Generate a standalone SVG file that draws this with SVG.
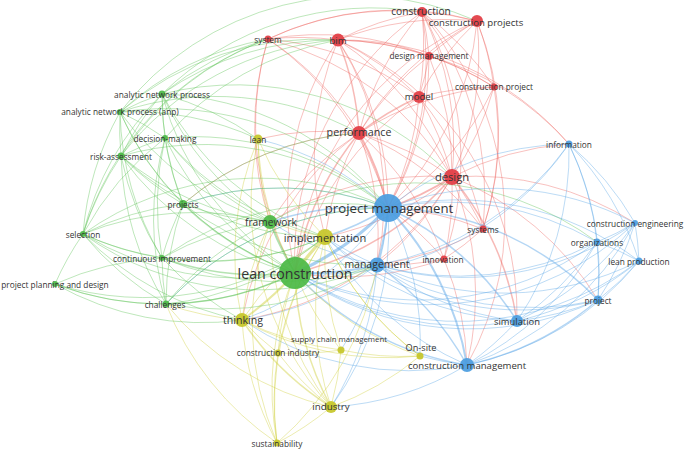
<svg xmlns="http://www.w3.org/2000/svg" width="685" height="450" viewBox="0 0 685 450">
<style>
.e path{fill:none;stroke-width:1;stroke-opacity:0.4}
.e .r{stroke:#ee6560}.e .g{stroke:#5cc254}.e .b{stroke:#58a4e6}.e .y{stroke:#cfcf3a}
.e .t2{stroke-width:2;stroke-opacity:0.48}.e .t3{stroke-width:3.2;stroke-opacity:0.52}.e .t1{stroke-width:1.5;stroke-opacity:0.45}
.nr{fill:#e23c44}.ng{fill:#4cb947}.nb{fill:#4b9de0}.ny{fill:#c6c62a}
circle{fill-opacity:0.93}
text{font-family:"Open Sans","Noto Sans","DejaVu Sans",sans-serif;fill:#333;text-anchor:middle;dominant-baseline:central}
.s{font-size:8.3px}.m{font-size:9.6px}.l{font-size:10.6px}
</style>
<rect width="685" height="450" fill="#fff"/>
<g id="connectors" class="e">
<path class="r" d="M268 39A300 300 0 0 1 338 40"/>
<path class="r" d="M268 39A300 300 0 0 1 422 12"/>
<path class="r" d="M268 39A300 300 0 0 1 477 21"/>
<path class="r" d="M268 39A300 300 0 0 1 359 133"/>
<path class="r" d="M268 39A300 300 0 0 1 419 97"/>
<path class="r" d="M268 39A300 300 0 0 1 429 56"/>
<path class="r" d="M268 39A300 300 0 0 1 452 177"/>
<path class="r" d="M268 39A300 300 0 0 1 388 208"/>
<path class="r" d="M268 39A300 300 0 0 0 295 273"/>
<path class="r" d="M268 39A300 300 0 0 0 270 222"/>
<path class="r" d="M338 40A300 300 0 0 1 422 12"/>
<path class="r" d="M338 40A300 300 0 0 1 477 21"/>
<path class="r" d="M338 40A300 300 0 0 1 429 56"/>
<path class="r" d="M338 40A300 300 0 0 1 419 97"/>
<path class="r t1" d="M338 40A300 300 0 0 1 359 133"/>
<path class="r" d="M338 40A300 300 0 0 1 452 177"/>
<path class="r" d="M338 40A300 300 0 0 1 388 208"/>
<path class="r" d="M338 40A300 300 0 0 0 295 273"/>
<path class="r" d="M338 40A300 300 0 0 0 325 237"/>
<path class="r" d="M338 40A300 300 0 0 1 377 265"/>
<path class="r" d="M338 40A300 300 0 0 1 494 87"/>
<path class="r" d="M338 40A300 300 0 0 1 569 144"/>
<path class="r" d="M338 40A300 300 0 0 1 517 321"/>
<path class="r" d="M422 12A300 300 0 0 1 477 21"/>
<path class="r" d="M422 12A300 300 0 0 1 429 56"/>
<path class="r" d="M422 12A300 300 0 0 1 419 97"/>
<path class="r" d="M422 12A300 300 0 0 0 359 133"/>
<path class="r" d="M422 12A300 300 0 0 1 452 177"/>
<path class="r" d="M422 12A300 300 0 0 1 388 208"/>
<path class="r" d="M422 12A300 300 0 0 1 494 87"/>
<path class="r" d="M422 12A300 300 0 0 0 295 273"/>
<path class="r" d="M422 12A300 300 0 0 1 483 229"/>
<path class="r" d="M422 12A300 300 0 0 1 444 259"/>
<path class="r" d="M422 12A300 300 0 0 1 467 365"/>
<path class="r" d="M477 21A300 300 0 0 0 429 56"/>
<path class="r" d="M477 21A300 300 0 0 0 419 97"/>
<path class="r" d="M477 21A300 300 0 0 0 359 133"/>
<path class="r" d="M477 21A300 300 0 0 1 452 177"/>
<path class="r" d="M477 21A300 300 0 0 1 388 208"/>
<path class="r" d="M477 21A300 300 0 0 1 494 87"/>
<path class="r" d="M477 21A300 300 0 0 0 295 273"/>
<path class="r" d="M477 21A300 300 0 0 1 483 229"/>
<path class="r" d="M429 56A300 300 0 0 1 419 97"/>
<path class="r" d="M429 56A300 300 0 0 0 359 133"/>
<path class="r" d="M429 56A300 300 0 0 1 452 177"/>
<path class="r" d="M429 56A300 300 0 0 1 388 208"/>
<path class="r" d="M429 56A300 300 0 0 1 494 87"/>
<path class="r" d="M429 56A300 300 0 0 1 569 144"/>
<path class="r" d="M494 87A300 300 0 0 1 452 177"/>
<path class="r" d="M494 87A300 300 0 0 0 419 97"/>
<path class="r" d="M494 87A300 300 0 0 1 388 208"/>
<path class="r" d="M494 87A300 300 0 0 0 359 133"/>
<path class="r" d="M494 87A300 300 0 0 1 483 229"/>
<path class="r t1" d="M419 97A300 300 0 0 0 359 133"/>
<path class="r" d="M419 97A300 300 0 0 1 452 177"/>
<path class="r" d="M419 97A300 300 0 0 1 388 208"/>
<path class="r" d="M419 97A300 300 0 0 0 295 273"/>
<path class="r" d="M419 97A300 300 0 0 1 483 229"/>
<path class="r" d="M359 133A300 300 0 0 1 452 177"/>
<path class="r t2" d="M359 133A300 300 0 0 1 388 208"/>
<path class="r t1" d="M359 133A300 300 0 0 0 295 273"/>
<path class="r" d="M359 133A300 300 0 0 0 325 237"/>
<path class="r" d="M359 133A300 300 0 0 0 270 222"/>
<path class="r" d="M359 133A300 300 0 0 1 377 265"/>
<path class="r" d="M359 133A300 300 0 0 0 258 139"/>
<path class="r" d="M359 133A300 300 0 0 1 444 259"/>
<path class="r" d="M359 133A300 300 0 0 1 483 229"/>
<path class="r" d="M359 133A300 300 0 0 0 242 320"/>
<path class="r" d="M359 133A300 300 0 0 0 183 204"/>
<path class="r t2" d="M452 177A300 300 0 0 1 388 208"/>
<path class="r t1" d="M452 177A300 300 0 0 1 295 273"/>
<path class="r" d="M452 177A300 300 0 0 1 377 265"/>
<path class="r" d="M452 177A300 300 0 0 1 483 229"/>
<path class="r" d="M452 177A300 300 0 0 1 444 259"/>
<path class="r" d="M452 177A300 300 0 0 1 325 237"/>
<path class="r t1" d="M452 177A300 300 0 0 1 517 321"/>
<path class="r" d="M452 177A300 300 0 0 1 467 365"/>
<path class="r" d="M452 177A300 300 0 0 1 598 300"/>
<path class="r" d="M452 177A300 300 0 0 1 635 223"/>
<path class="r" d="M452 177A300 300 0 0 1 569 144"/>
<path class="r" d="M452 177A300 300 0 0 0 270 222"/>
<path class="r" d="M452 177A300 300 0 0 1 242 320"/>
<path class="r" d="M483 229A300 300 0 0 0 388 208"/>
<path class="r" d="M483 229A300 300 0 0 1 377 265"/>
<path class="r" d="M483 229A300 300 0 0 1 444 259"/>
<path class="r" d="M444 259A300 300 0 0 0 388 208"/>
<path class="r" d="M444 259A300 300 0 0 1 377 265"/>
<path class="r" d="M444 259A300 300 0 0 1 295 273"/>
<path class="r" d="M444 259A300 300 0 0 1 467 365"/>
<path class="b t3" d="M388 208A300 300 0 0 1 295 273"/>
<path class="b t2" d="M388 208A300 300 0 0 1 377 265"/>
<path class="b t1" d="M388 208A300 300 0 0 1 325 237"/>
<path class="b t1" d="M388 208A300 300 0 0 0 270 222"/>
<path class="b" d="M388 208A300 300 0 0 1 569 144"/>
<path class="b" d="M388 208A300 300 0 0 1 635 223"/>
<path class="b" d="M388 208A300 300 0 0 1 597 242"/>
<path class="b" d="M388 208A300 300 0 0 1 639 261"/>
<path class="b t1" d="M388 208A300 300 0 0 1 598 300"/>
<path class="b t1" d="M388 208A300 300 0 0 1 517 321"/>
<path class="b t2" d="M388 208A300 300 0 0 1 467 365"/>
<path class="b" d="M388 208A300 300 0 0 1 242 320"/>
<path class="b" d="M388 208A300 300 0 0 1 331 407"/>
<path class="b" d="M388 208A300 300 0 0 0 258 139"/>
<path class="b" d="M388 208A300 300 0 0 0 183 204"/>
<path class="b" d="M388 208A300 300 0 0 1 420 356"/>
<path class="b" d="M388 208A300 300 0 0 1 341 350"/>
<path class="b" d="M388 208A300 300 0 0 0 166 304"/>
<path class="b t2" d="M377 265A300 300 0 0 1 295 273"/>
<path class="b" d="M377 265A300 300 0 0 1 325 237"/>
<path class="b" d="M377 265A300 300 0 0 0 517 321"/>
<path class="b t1" d="M377 265A300 300 0 0 1 467 365"/>
<path class="b" d="M377 265A300 300 0 0 0 598 300"/>
<path class="b" d="M377 265A300 300 0 0 0 597 242"/>
<path class="b" d="M377 265A300 300 0 0 0 635 223"/>
<path class="b" d="M377 265A300 300 0 0 0 639 261"/>
<path class="b" d="M377 265A300 300 0 0 1 270 222"/>
<path class="b" d="M377 265A300 300 0 0 1 242 320"/>
<path class="b" d="M377 265A300 300 0 0 1 331 407"/>
<path class="b" d="M569 144A300 300 0 0 1 635 223"/>
<path class="b" d="M569 144A300 300 0 0 1 597 242"/>
<path class="b" d="M569 144A300 300 0 0 1 639 261"/>
<path class="b" d="M569 144A300 300 0 0 1 598 300"/>
<path class="b" d="M569 144A300 300 0 0 1 517 321"/>
<path class="b" d="M635 223A300 300 0 0 1 597 242"/>
<path class="b" d="M635 223A300 300 0 0 1 639 261"/>
<path class="b" d="M635 223A300 300 0 0 1 598 300"/>
<path class="b" d="M635 223A300 300 0 0 1 517 321"/>
<path class="b" d="M597 242A300 300 0 0 1 639 261"/>
<path class="b" d="M597 242A300 300 0 0 1 598 300"/>
<path class="b" d="M597 242A300 300 0 0 1 517 321"/>
<path class="b" d="M639 261A300 300 0 0 1 598 300"/>
<path class="b" d="M639 261A300 300 0 0 1 517 321"/>
<path class="b" d="M639 261A300 300 0 0 1 467 365"/>
<path class="b" d="M598 300A300 300 0 0 1 517 321"/>
<path class="b t1" d="M598 300A300 300 0 0 1 467 365"/>
<path class="b" d="M598 300A300 300 0 0 1 295 273"/>
<path class="b" d="M517 321A300 300 0 0 1 467 365"/>
<path class="b" d="M517 321A300 300 0 0 1 295 273"/>
<path class="b" d="M517 321A300 300 0 0 1 325 237"/>
<path class="b t1" d="M467 365A300 300 0 0 1 295 273"/>
<path class="b" d="M467 365A300 300 0 0 1 331 407"/>
<path class="b" d="M467 365A300 300 0 0 1 420 356"/>
<path class="b" d="M467 365A300 300 0 0 1 325 237"/>
<path class="b" d="M467 365A300 300 0 0 1 242 320"/>
<path class="b" d="M569 144A300 300 0 0 1 377 265"/>
<path class="b" d="M635 223A300 300 0 0 1 467 365"/>
<path class="b" d="M597 242A300 300 0 0 1 467 365"/>
<path class="b" d="M598 300A300 300 0 0 1 325 237"/>
<path class="b" d="M569 144A300 300 0 0 1 295 273"/>
<path class="b" d="M639 261A300 300 0 0 1 295 273"/>
<path class="b" d="M635 223A300 300 0 0 1 295 273"/>
<path class="b" d="M597 242A300 300 0 0 1 295 273"/>
<path class="y" d="M258 139A300 300 0 0 0 295 273"/>
<path class="y" d="M258 139A300 300 0 0 0 325 237"/>
<path class="y" d="M258 139A300 300 0 0 0 242 320"/>
<path class="y" d="M258 139A300 300 0 0 0 270 222"/>
<path class="y" d="M258 139A300 300 0 0 0 331 407"/>
<path class="y t3" d="M325 237A300 300 0 0 0 295 273"/>
<path class="y" d="M325 237A300 300 0 0 1 270 222"/>
<path class="y" d="M325 237A300 300 0 0 0 242 320"/>
<path class="y" d="M325 237A300 300 0 0 0 331 407"/>
<path class="y" d="M325 237A300 300 0 0 0 341 350"/>
<path class="y" d="M325 237A300 300 0 0 0 420 356"/>
<path class="y t2" d="M242 320A300 300 0 0 0 295 273"/>
<path class="y" d="M242 320A300 300 0 0 0 278 353"/>
<path class="y t1" d="M242 320A300 300 0 0 0 331 407"/>
<path class="y" d="M242 320A300 300 0 0 0 277 443"/>
<path class="y" d="M242 320A300 300 0 0 0 341 350"/>
<path class="y" d="M242 320A300 300 0 0 1 270 222"/>
<path class="y" d="M242 320A300 300 0 0 1 166 304"/>
<path class="y" d="M341 350A300 300 0 0 1 295 273"/>
<path class="y" d="M341 350A300 300 0 0 1 331 407"/>
<path class="y" d="M341 350A300 300 0 0 1 278 353"/>
<path class="y" d="M341 350A300 300 0 0 0 420 356"/>
<path class="y" d="M278 353A300 300 0 0 1 295 273"/>
<path class="y" d="M278 353A300 300 0 0 0 331 407"/>
<path class="y" d="M278 353A300 300 0 0 0 277 443"/>
<path class="y" d="M420 356A300 300 0 0 1 295 273"/>
<path class="y" d="M420 356A300 300 0 0 1 331 407"/>
<path class="y t1" d="M331 407A300 300 0 0 1 295 273"/>
<path class="y" d="M331 407A300 300 0 0 1 277 443"/>
<path class="y" d="M277 443A300 300 0 0 1 295 273"/>
<path class="y" d="M277 443A300 300 0 0 1 270 222"/>
<path class="y" d="M277 443A300 300 0 0 1 166 304"/>
<path class="y" d="M420 356A300 300 0 0 1 242 320"/>
<path class="y" d="M277 443A300 300 0 0 1 325 237"/>
<path class="y" d="M420 356A300 300 0 0 1 325 237"/>
<path class="y" d="M331 407A300 300 0 0 1 270 222"/>
<path class="y" d="M278 353A300 300 0 0 1 325 237"/>
<path class="y" d="M277 443A300 300 0 0 0 377 265"/>
<path class="y" d="M331 407A300 300 0 0 1 166 304"/>
<path class="g t2" d="M295 273A300 300 0 0 1 270 222"/>
<path class="g" d="M295 273A300 300 0 0 1 162 94"/>
<path class="g" d="M295 273A300 300 0 0 1 120 112"/>
<path class="g" d="M295 273A300 300 0 0 1 165 138"/>
<path class="g" d="M295 273A300 300 0 0 1 121 156"/>
<path class="g t1" d="M295 273A300 300 0 0 1 183 204"/>
<path class="g" d="M295 273A300 300 0 0 1 83 234"/>
<path class="g t1" d="M295 273A300 300 0 0 1 162 258"/>
<path class="g" d="M295 273A300 300 0 0 1 55 284"/>
<path class="g t1" d="M295 273A300 300 0 0 1 166 304"/>
<path class="g" d="M270 222A300 300 0 0 1 162 94"/>
<path class="g" d="M270 222A300 300 0 0 1 120 112"/>
<path class="g" d="M270 222A300 300 0 0 1 165 138"/>
<path class="g" d="M270 222A300 300 0 0 1 121 156"/>
<path class="g" d="M270 222A300 300 0 0 1 183 204"/>
<path class="g" d="M270 222A300 300 0 0 0 83 234"/>
<path class="g" d="M270 222A300 300 0 0 0 162 258"/>
<path class="g" d="M270 222A300 300 0 0 0 166 304"/>
<path class="g" d="M162 94A300 300 0 0 0 120 112"/>
<path class="g" d="M162 94A300 300 0 0 0 165 138"/>
<path class="g" d="M162 94A300 300 0 0 0 121 156"/>
<path class="g" d="M162 94A300 300 0 0 0 183 204"/>
<path class="g" d="M162 94A300 300 0 0 0 83 234"/>
<path class="g" d="M162 94A300 300 0 0 1 268 39"/>
<path class="g" d="M162 94A300 300 0 0 1 338 40"/>
<path class="g" d="M120 112A300 300 0 0 1 165 138"/>
<path class="g" d="M120 112A300 300 0 0 0 121 156"/>
<path class="g" d="M120 112A300 300 0 0 0 183 204"/>
<path class="g" d="M120 112A300 300 0 0 0 83 234"/>
<path class="g" d="M120 112A300 300 0 0 0 162 258"/>
<path class="g" d="M120 112A300 300 0 0 1 338 40"/>
<path class="g" d="M120 112A300 300 0 0 1 477 21"/>
<path class="g" d="M165 138A300 300 0 0 0 121 156"/>
<path class="g" d="M165 138A300 300 0 0 0 183 204"/>
<path class="g" d="M165 138A300 300 0 0 0 83 234"/>
<path class="g" d="M165 138A300 300 0 0 0 162 258"/>
<path class="g" d="M165 138A300 300 0 0 0 166 304"/>
<path class="g" d="M165 138A300 300 0 0 1 388 208"/>
<path class="g" d="M121 156A300 300 0 0 0 183 204"/>
<path class="g" d="M121 156A300 300 0 0 0 83 234"/>
<path class="g" d="M121 156A300 300 0 0 0 162 258"/>
<path class="g" d="M121 156A300 300 0 0 0 166 304"/>
<path class="g" d="M121 156A300 300 0 0 1 388 208"/>
<path class="g" d="M183 204A300 300 0 0 0 83 234"/>
<path class="g" d="M183 204A300 300 0 0 0 162 258"/>
<path class="g" d="M183 204A300 300 0 0 0 166 304"/>
<path class="g" d="M183 204A300 300 0 0 1 388 208"/>
<path class="g" d="M183 204A300 300 0 0 0 377 265"/>
<path class="g" d="M83 234A300 300 0 0 0 162 258"/>
<path class="g" d="M83 234A300 300 0 0 0 166 304"/>
<path class="g" d="M83 234A300 300 0 0 0 55 284"/>
<path class="g" d="M83 234A300 300 0 0 1 388 208"/>
<path class="g" d="M162 258A300 300 0 0 0 166 304"/>
<path class="g" d="M162 258A300 300 0 0 1 388 208"/>
<path class="g" d="M162 258A300 300 0 0 0 242 320"/>
<path class="g" d="M55 284A300 300 0 0 0 166 304"/>
<path class="g" d="M166 304A300 300 0 0 0 377 265"/>
<path class="g" d="M166 304A300 300 0 0 1 388 208"/>
<path class="g" d="M55 284A300 300 0 0 1 162 258"/>
<path class="g" d="M83 234A300 300 0 0 0 242 320"/>
<path class="g" d="M55 284A300 300 0 0 0 242 320"/>
<path class="g" d="M120 112A300 300 0 0 1 258 139"/>
<path class="g" d="M162 94A300 300 0 0 1 258 139"/>
<path class="g" d="M162 258A300 300 0 0 0 377 265"/>
<path class="g" d="M162 258A300 300 0 0 0 325 237"/>
<path class="g" d="M162 94A300 300 0 0 1 388 208"/>
<path class="g" d="M120 112A300 300 0 0 1 388 208"/>
<path class="g" d="M83 234A300 300 0 0 0 325 237"/>
<path class="g" d="M166 304A300 300 0 0 0 325 237"/>
<path class="g" d="M162 94A300 300 0 0 0 325 237"/>
<path class="g" d="M121 156A300 300 0 0 0 325 237"/>
<path class="g" d="M165 138A300 300 0 0 0 325 237"/>
<path class="g" d="M83 234A300 300 0 0 0 377 265"/>
<path class="g" d="M55 284A300 300 0 0 0 325 237"/>
<path class="g" d="M270 222A300 300 0 0 1 597 242"/>
<path class="g" d="M120 112A300 300 0 0 1 268 39"/>
<path class="g" d="M121 156A300 300 0 0 1 338 40"/>
<path class="g" d="M165 138A300 300 0 0 1 338 40"/>
<path class="g" d="M162 94A300 300 0 0 1 422 12"/>
<path class="g" d="M120 112A300 300 0 0 1 359 133"/>
<path class="g" d="M121 156A300 300 0 0 1 268 39"/>
<path class="g" d="M162 94A300 300 0 0 1 452 177"/>
<path class="g" d="M183 204A300 300 0 0 1 359 133"/>
<path class="g" d="M83 234A300 300 0 0 1 268 39"/>
</g>
<g id="n-system"><circle class="nr" cx="268" cy="39" r="3.5"/><text class="s" x="268" y="39">system</text></g>
<g id="n-design-management"><circle class="nr" cx="429" cy="56" r="4"/><text class="s" x="429" y="55">design management</text></g>
<g id="n-construction-project"><circle class="nr" cx="494" cy="87" r="3.5"/><text class="s" x="494" y="86">construction project</text></g>
<g id="n-systems"><circle class="nr" cx="483" cy="229" r="3.5"/><text class="s" x="483" y="229">systems</text></g>
<g id="n-innovation"><circle class="nr" cx="444" cy="259" r="3.5"/><text class="s" x="443" y="259">innovation</text></g>
<g id="n-bim"><circle class="nr" cx="338" cy="40" r="6.5"/><text class="m" x="338" y="40">bim</text></g>
<g id="n-construction"><circle class="nr" cx="422" cy="12" r="5"/><text style="font-size:10.2px" x="421" y="10.5">construction</text></g>
<g id="n-construction-projects"><circle class="nr" cx="477" cy="21" r="6"/><text class="m" x="476" y="22.5">construction projects</text></g>
<g id="n-model"><circle class="nr" cx="419" cy="97" r="6"/><text class="m" x="419" y="96">model</text></g>
<g id="n-performance"><circle class="nr" cx="359" cy="133" r="7"/><text style="font-size:10.7px" x="359" y="132">performance</text></g>
<g id="n-design"><circle class="nr" cx="452" cy="177" r="8"/><text style="font-size:11.2px" x="452" y="176">design</text></g>
<g id="n-information"><circle class="nb" cx="569" cy="144" r="3.5"/><text class="s" x="569" y="144">information</text></g>
<g id="n-construction-engineering"><circle class="nb" cx="635" cy="223" r="3"/><text class="s" x="635" y="223">construction engineering</text></g>
<g id="n-organizations"><circle class="nb" cx="597" cy="242" r="3.5"/><text class="s" x="597" y="242">organizations</text></g>
<g id="n-lean-production"><circle class="nb" cx="639" cy="261" r="3.5"/><text class="s" x="639" y="261">lean production</text></g>
<g id="n-project"><circle class="nb" cx="598" cy="300" r="4.5"/><text class="s" x="598" y="300">project</text></g>
<g id="n-simulation"><circle class="nb" cx="517" cy="321" r="6"/><text style="font-size:9.4px" x="517" y="321">simulation</text></g>
<g id="n-construction-management"><circle class="nb" cx="467" cy="365" r="7"/><text class="m" x="467" y="365">construction management</text></g>
<g id="n-lean"><circle class="ny" cx="258" cy="139" r="4.5"/><text class="s" x="258" y="139">lean</text></g>
<g id="n-supply-chain-management"><circle class="ny" cx="341" cy="350" r="3.5"/><text style="font-size:7.8px" x="339" y="339">supply chain management</text></g>
<g id="n-construction-industry"><circle class="ny" cx="278" cy="353" r="3.5"/><text class="s" x="278" y="352">construction industry</text></g>
<g id="n-on-site"><circle class="ny" cx="420" cy="356" r="3.5"/><text style="font-size:9.2px" x="421" y="347">On-site</text></g>
<g id="n-sustainability"><circle class="ny" cx="277" cy="443" r="3.5"/><text class="s" x="277" y="443">sustainability</text></g>
<g id="n-industry"><circle class="ny" cx="331" cy="407" r="6"/><text style="font-size:9.8px" x="331" y="406">industry</text></g>
<g id="n-thinking"><circle class="ny" cx="242" cy="320" r="7"/><text class="l" x="243" y="320">thinking</text></g>
<g id="n-analytic-network-process"><circle class="ng" cx="162" cy="94" r="3.5"/><text class="s" x="162" y="94">analytic network process</text></g>
<g id="n-analytic-network-process-anp"><circle class="ng" cx="120" cy="112" r="3"/><text class="s" x="120" y="111">analytic network process (anp)</text></g>
<g id="n-decision-making"><circle class="ng" cx="165" cy="138" r="3"/><text class="s" x="165" y="138">decision-making</text></g>
<g id="n-risk-assessment"><circle class="ng" cx="121" cy="156" r="3.5"/><text class="s" x="121" y="156">risk-assessment</text></g>
<g id="n-projects"><circle class="ng" cx="183" cy="204" r="4"/><text class="s" x="183" y="204">projects</text></g>
<g id="n-selection"><circle class="ng" cx="83" cy="234" r="3"/><text class="s" x="83" y="234">selection</text></g>
<g id="n-continuous-improvement"><circle class="ng" cx="162" cy="258" r="3"/><text class="s" x="162" y="258">continuous improvement</text></g>
<g id="n-project-planning-and-design"><circle class="ng" cx="55" cy="284" r="3"/><text class="s" x="55" y="284">project planning and design</text></g>
<g id="n-challenges"><circle class="ng" cx="166" cy="304" r="3.5"/><text class="s" x="165" y="304">challenges</text></g>
<g id="n-framework"><circle class="ng" cx="270" cy="222" r="7"/><text style="font-size:10.2px" x="271" y="222">framework</text></g>
<g id="n-implementation"><circle class="ny" cx="325" cy="237" r="8"/><text style="font-size:11.1px" x="325" y="237">implementation</text></g>
<g id="n-management"><circle class="nb" cx="377" cy="265" r="7.5"/><text style="font-size:10.5px" x="377" y="264">management</text></g>
<g id="n-project-management"><circle class="nb" cx="388" cy="208" r="14"/><text style="font-size:13.2px" x="389" y="208">project management</text></g>
<g id="n-lean-construction"><circle class="ng" cx="295" cy="273" r="16"/><text style="font-size:14.2px" x="295" y="273">lean construction</text></g>
</svg>
